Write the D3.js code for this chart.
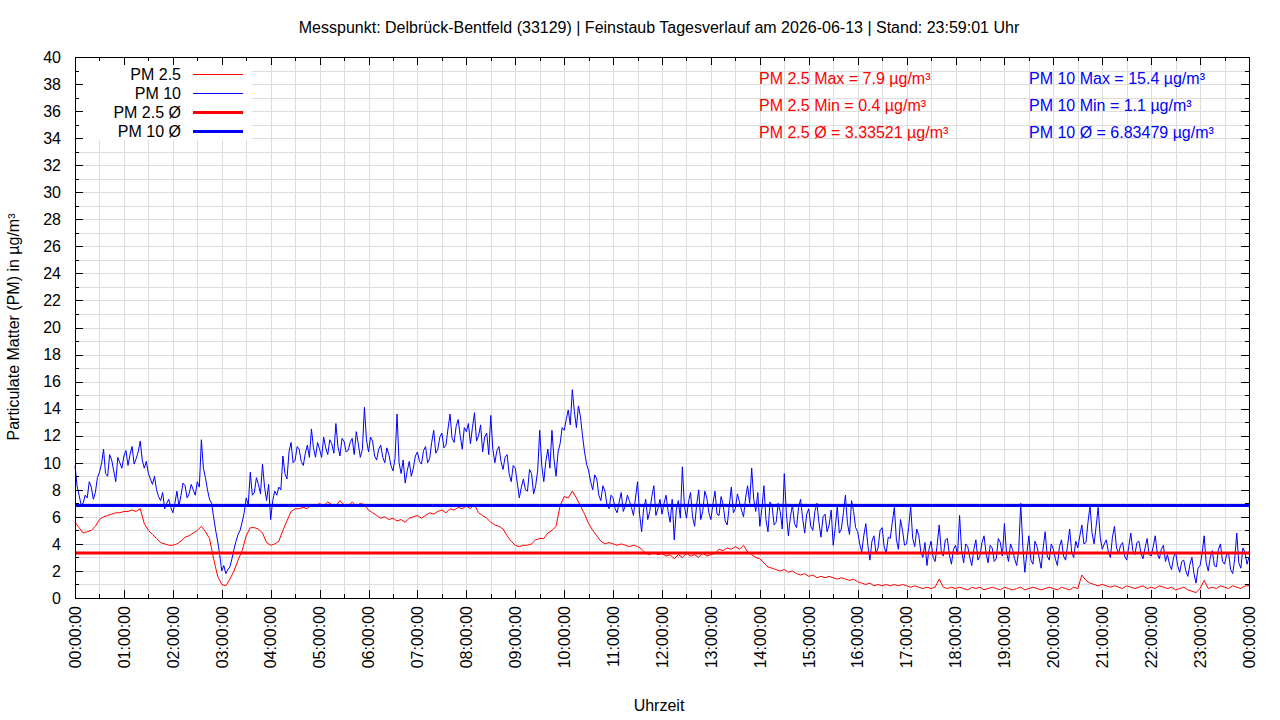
<!DOCTYPE html>
<html>
<head>
<meta charset="utf-8">
<script src="https://cdn.jsdelivr.net/npm/d3@7/dist/d3.min.js"></script>
<style>
  html, body { margin: 0; padding: 0; background: #fff; }
  svg { display: block; font-family: "Liberation Sans", Arial, sans-serif; }
</style>
</head>
<body>
<svg id="chart" width="1280" height="720"></svg>
<script>
// ---------------- DATA ----------------
const titleText = "Messpunkt: Delbrück-Bentfeld (33129) | Feinstaub Tagesverlauf am 2026-06-13 | Stand: 23:59:01 Uhr";
const yAxisTitle = "Particulate Matter (PM) in µg/m³";
const xAxisTitle = "Uhrzeit";
const pm10StepMinutes = 2.5; // PM 10 readings every 2.5 minutes, 00:00 .. 24:00
const pm25StepMinutes = 5;   // PM 2.5 readings every 5 minutes, 00:00 .. 24:00

const xTickLabels = ["00:00:00","01:00:00","02:00:00","03:00:00","04:00:00","05:00:00","06:00:00","07:00:00",
  "08:00:00","09:00:00","10:00:00","11:00:00","12:00:00","13:00:00","14:00:00","15:00:00","16:00:00",
  "17:00:00","18:00:00","19:00:00","20:00:00","21:00:00","22:00:00","23:00:00","00:00:00"];
const yTickValues = [0,2,4,6,8,10,12,14,16,18,20,22,24,26,28,30,32,34,36,38,40];

const pm10 = [
  9.8,8.3, 7.6,6.9, 7.0,7.6, 7.4,8.6, 8.2,7.3, 7.8,8.9, 9.3,9.9, 11.0,9.2, 9.0,10.6, 10.2,9.4, 8.6,10.4, 10.0,9.6,      // 00
  10.5,10.9, 9.8,10.6, 11.2,9.9, 10.3,10.8, 11.6,10.2, 9.6,10.1, 9.2,8.8, 8.4,9.0, 8.0,7.5, 7.2,7.8, 6.6,7.0, 7.3,6.7, // 01
  6.3,7.0, 7.9,6.8, 7.6,8.5, 8.3,7.4, 7.7,8.4, 8.0,7.6, 8.6,8.2, 11.7,9.6, 8.9,8.0, 7.3,7.0, 6.0,5.0, 4.2,3.2,        // 02
  2.0,2.4, 1.8,2.1, 2.3,2.9, 3.6,4.2, 4.7,5.0, 5.6,6.3, 7.4,6.9, 9.3,7.6, 7.8,8.9, 8.4,7.7, 9.9,8.2, 7.2,8.4,        // 03
  5.8,7.2, 7.9,7.6, 8.2,8.0, 10.5,9.2, 8.8,10.8, 11.5,10.0, 10.2,11.2, 11.0,10.1, 9.8,10.7, 11.3,10.4, 12.5,11.1, 10.4,11.5, // 04
  11.0,10.4, 11.9,11.1, 10.6,11.7, 11.4,10.7, 12.9,11.2, 10.5,11.8, 11.6,10.8, 10.9,11.5, 11.8,10.6, 12.3,11.4, 10.4,11.0, 14.1,11.7, // 05
  10.8,11.9, 11.6,10.5, 10.2,11.0, 11.3,10.4, 10.0,11.1, 10.6,9.8, 9.4,10.3, 13.6,10.0, 9.2,10.2, 8.5,9.4, 10.1,9.0, 9.6,10.5, // 06
  10.8,10.1, 9.9,10.9, 11.2,10.0, 10.3,11.5, 12.4,10.7, 11.0,11.9, 12.2,11.1, 11.3,12.5, 13.6,11.8, 11.5,12.7, 13.2,12.0, 11.0,12.6, // 07
  12.3,12.9, 11.4,12.6, 13.7,11.6, 12.0,12.8, 10.8,11.9, 12.2,10.6, 13.5,11.0, 10.0,10.9, 11.2,10.1, 9.5,10.4, 10.6,9.2, 8.6,9.8, // 08
  9.6,8.5, 7.4,8.2, 8.8,8.0, 7.9,9.5, 9.2,7.7, 8.3,9.4, 12.4,9.8, 8.6,10.1, 11.0,9.6, 12.4,10.3, 9.0,10.8, 11.4,12.6,   // 09
  12.4,13.2, 13.9,12.8, 15.4,13.8, 12.6,14.2, 13.4,12.0, 10.8,9.9, 9.4,8.6, 8.0,9.1, 8.8,7.6, 7.2,8.3, 7.9,6.9, 6.6,7.6, // 10
  7.4,6.6, 6.3,7.1, 7.8,6.4, 6.8,7.6, 7.2,6.7, 6.1,7.4, 8.6,6.2, 4.9,6.6, 7.3,5.8, 6.4,7.5, 8.3,6.1, 6.6,7.3,         // 11
  6.2,7.0, 7.6,6.4, 5.6,7.3, 4.3,6.5, 7.2,5.9, 9.7,6.8, 5.9,7.1, 7.8,6.0, 5.3,6.9, 8.0,5.8, 6.4,7.9, 7.4,6.3,         // 12
  5.8,7.0, 7.9,6.2, 6.1,7.5, 6.9,5.7, 5.4,6.8, 8.2,6.3, 6.6,7.7, 7.1,6.5, 6.0,7.4, 8.3,7.0, 9.6,7.3, 6.4,7.8,         // 13
  5.3,6.6, 8.3,5.8, 4.9,7.1, 6.8,5.4, 5.6,7.0, 6.4,5.1, 9.2,6.3, 4.6,6.0, 6.9,5.5, 5.2,6.7, 7.3,5.9, 4.8,6.2,         // 14
  6.6,5.3, 5.0,6.4, 7.0,5.6, 4.5,6.0, 6.2,4.9, 5.4,6.5, 3.9,5.2, 6.8,4.8, 5.1,6.3, 7.6,5.5, 4.7,7.2, 6.4,5.2,         // 15
  4.9,4.0, 3.4,4.6, 5.5,3.9, 2.8,4.2, 4.6,3.3, 3.7,5.0, 5.2,3.8, 3.3,4.5, 4.4,5.6, 6.7,4.3, 3.6,5.8, 5.0,3.9,         // 16
  4.0,5.2, 6.8,4.4, 3.8,5.1, 4.6,3.4, 3.0,4.1, 2.4,3.6, 4.2,3.0, 2.7,3.9, 5.4,3.5, 3.1,4.3, 4.4,3.2, 2.5,3.6,         // 17
  3.9,3.2, 6.1,3.5, 2.6,4.0, 3.8,3.0, 2.4,3.6, 4.3,2.8, 3.1,4.1, 4.6,3.3, 2.6,3.9, 3.7,2.7, 2.9,4.4, 4.1,3.1,         // 18
  5.5,3.4, 2.7,4.0, 3.6,2.9, 2.4,3.5, 7.0,3.9, 1.9,3.3, 4.6,2.8, 2.5,4.2, 3.8,3.0, 2.2,3.7, 4.9,3.1, 2.8,4.0,         // 19
  3.6,2.9, 2.4,3.8, 4.3,3.1, 2.8,3.9, 5.1,3.4, 3.0,4.2, 3.7,4.6, 5.4,4.0, 4.1,5.6, 6.8,4.8, 4.0,5.3, 6.7,4.5,         // 20
  3.6,4.0, 4.3,3.4, 3.0,4.5, 5.3,3.7, 3.3,3.9, 4.1,3.1, 2.8,3.8, 4.8,3.5, 3.2,4.1, 4.2,3.3, 2.9,3.7, 4.4,3.2,         // 21
  3.1,3.8, 4.6,3.3, 2.9,3.6, 3.9,2.7, 3.2,2.5, 2.1,3.0, 3.4,2.4, 1.9,2.7, 2.8,2.0, 1.6,2.5, 3.0,1.8, 1.1,2.2,         // 22
  2.4,3.3, 4.6,2.6, 2.0,3.0, 3.5,2.4, 2.3,3.6, 4.0,2.7, 2.5,3.2, 3.3,2.1, 1.8,2.9, 4.8,2.6, 2.2,3.7, 3.4,2.5,         // 23
  3.0                                                                                                                   // 24
];

const pm25 = [
  5.6, 5.2, 4.8, 4.9, 5.0, 5.3, 5.8, 6.0, 6.1, 6.2, 6.3, 6.3,         // 00
  6.4, 6.4, 6.5, 6.4, 6.6, 5.5, 5.0, 4.7, 4.4, 4.1, 4.0, 3.9,         // 01
  3.9, 4.0, 4.2, 4.5, 4.6, 4.8, 5.0, 5.3, 4.9, 4.4, 2.9, 1.6,         // 02
  1.0, 0.9, 1.4, 2.0, 2.8, 3.5, 4.6, 5.2, 5.2, 5.1, 4.8, 4.1,         // 03
  3.9, 4.0, 4.2, 5.0, 5.7, 6.4, 6.6, 6.6, 6.7, 6.6, 6.9, 6.8,         // 04
  7.0, 6.8, 7.1, 6.9, 6.8, 7.2, 6.9, 6.8, 7.1, 6.8, 7.0, 6.9,         // 05
  6.5, 6.3, 6.1, 5.9, 6.0, 5.8, 5.9, 5.7, 5.8, 5.6, 5.9, 6.0,         // 06
  6.1, 5.9, 6.1, 6.3, 6.2, 6.4, 6.5, 6.3, 6.6, 6.5, 6.7, 6.6,         // 07
  6.8, 6.6, 6.9, 6.3, 6.1, 5.9, 5.6, 5.4, 5.3, 5.1, 4.6, 4.2,         // 08
  3.9, 3.8, 3.9, 3.9, 4.0, 4.3, 4.4, 4.4, 4.8, 5.0, 5.3, 6.8,         // 09
  7.5, 7.4, 7.9, 7.4, 6.8, 6.2, 5.5, 5.0, 4.6, 4.2, 4.0, 4.1,         // 10
  4.0, 3.9, 4.0, 3.9, 3.8, 3.9, 3.8, 3.6, 3.3, 3.2, 3.4, 3.2,         // 11
  3.3, 3.1, 3.2, 2.9, 3.2, 3.0, 3.3, 3.1, 3.2, 3.0, 3.3, 3.1,         // 12
  3.2, 3.3, 3.6, 3.5, 3.7, 3.6, 3.8, 3.6, 3.9, 3.4, 3.2, 3.0,         // 13
  2.9, 2.6, 2.3, 2.2, 2.1, 2.0, 2.1, 1.9, 2.0, 1.8, 1.7, 1.8,         // 14
  1.6, 1.7, 1.5, 1.6, 1.5, 1.6, 1.5, 1.4, 1.5, 1.4, 1.3, 1.4,         // 15
  1.2, 1.1, 1.0, 1.1, 0.9, 1.0, 0.9, 1.0, 0.9, 1.0, 0.9, 1.0,         // 16
  0.9, 0.8, 0.9, 0.8, 0.7, 0.8, 0.7, 0.8, 1.4, 0.8, 0.7, 0.8,         // 17
  0.7, 0.8, 0.7, 0.6, 0.8, 0.7, 0.8, 0.6, 0.7, 0.8, 0.7, 0.6,         // 18
  0.8, 0.7, 0.6, 0.7, 0.8, 0.6, 0.7, 0.8, 0.7, 0.6, 0.7, 0.8,         // 19
  0.7, 0.6, 0.8, 0.7, 0.6, 0.8, 0.7, 1.7, 1.3, 1.1, 1.0, 0.9,         // 20
  1.0, 0.9, 0.8, 0.9, 0.8, 0.7, 0.9, 0.8, 0.7, 0.8, 0.9, 0.7,         // 21
  0.8, 0.7, 0.9, 0.8, 0.7, 0.8, 0.6, 0.7, 0.8, 0.6, 0.5, 0.4,         // 22
  0.7, 1.3, 0.7, 0.8, 0.7, 0.9, 0.8, 0.7, 0.9, 0.8, 0.7, 0.9,         // 23
  0.9                                                                  // 24
];

const seriesNames = ["PM 2.5", "PM 10", "PM 2.5 Ø", "PM 10 Ø"];
const seriesColors = ["#ff0000", "#0000ff", "#ff0000", "#0000ff"];
const averages = [3.33521, 6.83479];         // PM 2.5 Ø, PM 10 Ø
const statsPM25 = ["PM 2.5 Max = 7.9 µg/m³", "PM 2.5 Min = 0.4 µg/m³", "PM 2.5 Ø = 3.33521 µg/m³"];
const statsPM10 = ["PM 10 Max = 15.4 µg/m³", "PM 10 Min = 1.1 µg/m³", "PM 10 Ø = 6.83479 µg/m³"];

// ---------------- LAYOUT ----------------
const L = 75, R = 1249, T = 57, B = 598;
const svg = d3.select("#chart");

const x = d3.scaleLinear().domain([0, 1440]).range([L, R]);
const y = d3.scaleLinear().domain([0, 40]).range([B, T]);

const gridColor = "#dddddd";

// grid
const g = svg.append("g").attr("shape-rendering", "crispEdges");
const xGrid = d3.range(30, 1440, 30);
const yGrid = d3.range(1, 40, 1);
g.selectAll(".vg").data(xGrid).join("line")
  .attr("x1", d => Math.round(x(d)) + 0.5).attr("x2", d => Math.round(x(d)) + 0.5)
  .attr("y1", T).attr("y2", B).attr("stroke", gridColor).attr("stroke-width", 1);
g.selectAll(".hg").data(yGrid).join("line")
  .attr("x1", L).attr("x2", R)
  .attr("y1", d => Math.round(y(d)) + 0.5).attr("y2", d => Math.round(y(d)) + 0.5)
  .attr("stroke", gridColor).attr("stroke-width", 1);

// legend background (covers grid)
svg.append("rect").attr("x", L + 1).attr("y", T + 1).attr("width", 176).attr("height", 82).attr("fill", "#fff");

// data lines
const line25 = d3.line().x((d, i) => x(i * pm25StepMinutes)).y(d => y(d));
const line10 = d3.line().x((d, i) => x(i * pm10StepMinutes)).y(d => y(d));
const plot = svg.append("g");
plot.append("path").datum(pm25).attr("d", line25).attr("fill", "none")
  .attr("stroke", seriesColors[0]).attr("stroke-width", 1);
plot.append("path").datum(pm10).attr("d", line10).attr("fill", "none")
  .attr("stroke", seriesColors[1]).attr("stroke-width", 1);

// averages
averages.forEach((a, k) => {
  plot.append("line").attr("x1", L).attr("x2", R).attr("y1", y(a)).attr("y2", y(a))
    .attr("stroke", seriesColors[2 + k]).attr("stroke-width", 3);
});

// frame & ticks
const ax = svg.append("g").attr("shape-rendering", "crispEdges").attr("stroke", "#000");
ax.append("rect").attr("x", L + 0.5).attr("y", T + 0.5).attr("width", R - L).attr("height", B - T)
  .attr("fill", "none").attr("stroke-width", 1);

const xTicks = d3.range(0, 1441, 30);
xTicks.forEach(m => {
  const len = (m % 60 === 0) ? 8 : 4;
  const px = Math.round(x(m)) + 0.5;
  ax.append("line").attr("x1", px).attr("x2", px).attr("y1", B).attr("y2", B - len);
  ax.append("line").attr("x1", px).attr("x2", px).attr("y1", T).attr("y2", T + len);
});
const yTicks = d3.range(0, 41, 1);
yTicks.forEach(v => {
  const len = (v % 2 === 0) ? 8 : 4;
  const py = Math.round(y(v)) + 0.5;
  ax.append("line").attr("x1", L).attr("x2", L + len).attr("y1", py).attr("y2", py);
  ax.append("line").attr("x1", R).attr("x2", R - len).attr("y1", py).attr("y2", py);
});

// tick labels
const txt = svg.append("g").attr("fill", "#000").attr("font-size", 16);
txt.selectAll(".yl").data(yTickValues).join("text")
  .attr("x", L - 14).attr("y", d => y(d)).attr("dy", "0.36em")
  .attr("text-anchor", "end").text(d => d);

txt.selectAll(".xl").data(xTickLabels).join("text")
  .attr("transform", (d, i) => `translate(${x(i * 60)},${B + 8}) rotate(-90)`)
  .attr("dy", "0.36em").attr("text-anchor", "end").text(d => d);

// titles
svg.append("text").attr("x", 659).attr("y", 33).attr("text-anchor", "middle")
  .attr("font-size", 16).text(titleText);
svg.append("text").attr("x", 659).attr("y", 711).attr("text-anchor", "middle")
  .attr("font-size", 16).text(xAxisTitle);
svg.append("text").attr("transform", `translate(19,327) rotate(-90)`).attr("text-anchor", "middle")
  .attr("font-size", 16).text(yAxisTitle);

// legend
const legY = [74, 93, 112, 131];
seriesNames.forEach((n, i) => {
  svg.append("text").attr("x", 181).attr("y", legY[i]).attr("dy", "0.36em")
    .attr("text-anchor", "end").attr("font-size", 16).text(n);
  svg.append("line").attr("x1", 193).attr("x2", 243).attr("y1", legY[i]).attr("y2", legY[i])
    .attr("stroke", seriesColors[i]).attr("stroke-width", i < 2 ? 1 : 3)
    .attr("shape-rendering", "crispEdges");
});

// stats text
const statY = [78, 105, 132];
statsPM25.forEach((s, i) => {
  svg.append("text").attr("x", 759).attr("y", statY[i]).attr("dy", "0.36em")
    .attr("font-size", 16).attr("fill", seriesColors[0]).text(s);
});
statsPM10.forEach((s, i) => {
  svg.append("text").attr("x", 1029).attr("y", statY[i]).attr("dy", "0.36em")
    .attr("font-size", 16).attr("fill", seriesColors[1]).text(s);
});
</script>
</body>
</html>
